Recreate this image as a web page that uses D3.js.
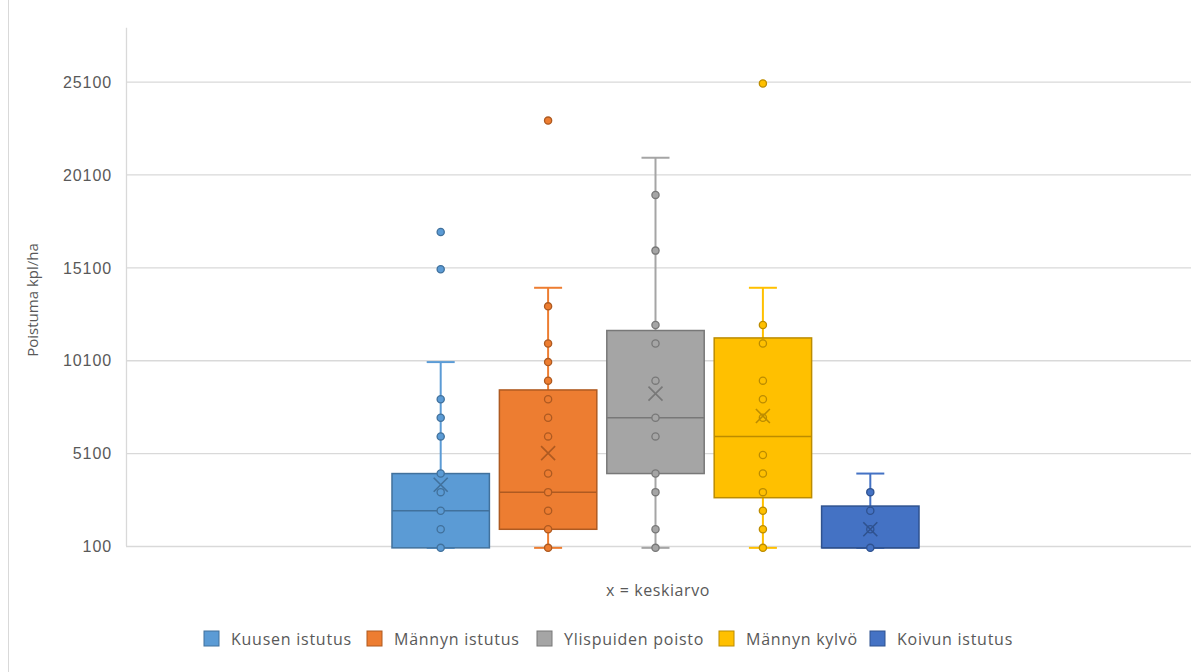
<!DOCTYPE html>
<html>
<head>
<meta charset="utf-8">
<script src="https://cdn.jsdelivr.net/npm/d3@7"></script>
<style>
  html, body { margin: 0; padding: 0; background: #fff; }
  svg { display: block; font-family: "Open Sans", "Noto Sans", sans-serif; }
</style>
</head>
<body>
<svg id="chart" width="1197" height="672"></svg>
<script>
// Box-and-whisker summary per planting method (stems per hectare)
const series = ["Kuusen istutus", "Männyn istutus", "Ylispuiden poisto", "Männyn kylvö", "Koivun istutus"];
const q1Values = [0, 1000, 4000, 2700, 0];
const medianValues = [2000, 3000, 7000, 6000, 0];
const q3Values = [4000, 8500, 11700, 11300, 2250];
const whiskerLow = [0, 0, 0, 0, 0];
const whiskerHigh = [10000, 14000, 21000, 14000, 4000];
const meanValues = [3400, 5100, 8300, 7100, 1000];
const pointValues = [
  [0, 1000, 2000, 3000, 4000, 6000, 7000, 8000, 15000, 17000],
  [0, 1000, 2000, 3000, 4000, 6000, 7000, 8000, 9000, 10000, 11000, 13000, 23000],
  [0, 1000, 3000, 4000, 6000, 7000, 9000, 11000, 12000, 16000, 19000],
  [0, 1000, 2000, 3000, 4000, 5000, 7000, 8000, 9000, 11000, 12000, 25000],
  [0, 1000, 2000, 3000]
];
const yTicks = [100, 5100, 10100, 15100, 20100, 25100];
const yMin = 100, yMax = 28000;
const yTitle = "Poistuma kpl/ha";
const xTitle = "x = keskiarvo";

const fills = ["#5B9BD5", "#ED7D31", "#A5A5A5", "#FFC000", "#4472C4"];
const edges = ["#41719C", "#AE5A21", "#787878", "#BC8C00", "#2F528F"];

const svg = d3.select("#chart");
const plot = { left: 126, right: 1191, top: 27.7, bottom: 546 };

// frame line of the chart area
svg.append("line")
  .attr("x1", 8.5).attr("x2", 8.5).attr("y1", 0).attr("y2", 672)
  .attr("stroke", "#D9D9D9").attr("stroke-width", 1);

const y = d3.scaleLinear().domain([yMin, yMax]).range([plot.bottom, plot.top]);

// one category holding the five series side by side
const xGroup = d3.scaleBand().domain(["all"]).range([plot.left, plot.right]).paddingOuter(0.5104).paddingInner(0);
const gx0 = xGroup("all") - 3;
const xInner = d3.scaleBand().domain(series).range([gx0, gx0 + xGroup.bandwidth()]).paddingInner(0.093).paddingOuter(0);

// gridlines + tick labels
const yAxis = d3.axisLeft(y).tickValues(yTicks).tickSize(-(plot.right - plot.left)).tickPadding(14).tickFormat(d3.format("d"));
const gAxis = svg.append("g").attr("transform", `translate(${plot.left},0)`).call(yAxis);
gAxis.select(".domain").remove();
gAxis.selectAll(".tick line").attr("stroke", "#D9D9D9").attr("stroke-width", 1.3);
gAxis.selectAll(".tick text").attr("fill", "#595959").style("font-size", "16px")
  .style("letter-spacing", "0.9px").attr("dy", "0.36em");

// vertical axis line
svg.append("line")
  .attr("x1", plot.left + 0.5).attr("x2", plot.left + 0.5)
  .attr("y1", plot.top).attr("y2", plot.bottom)
  .attr("stroke", "#D9D9D9").attr("stroke-width", 1.3);

const rows = series.map((s, i) => ({
  name: s, i, q1: q1Values[i], med: medianValues[i], q3: q3Values[i],
  lo: whiskerLow[i], hi: whiskerHigh[i], mean: meanValues[i], pts: pointValues[i]
}));

const g = svg.selectAll("g.box").data(rows).join("g").attr("class", "box");

g.each(function (d) {
  const sel = d3.select(this);
  const x0 = xInner(d.name), bw = xInner.bandwidth(), cx = x0 + bw / 2;
  const capW = 28;
  // whiskers
  sel.append("line").attr("x1", cx).attr("x2", cx).attr("y1", y(d.hi)).attr("y2", y(d.q3))
    .attr("stroke", fills[d.i]).attr("stroke-width", 2);
  sel.append("line").attr("x1", cx).attr("x2", cx).attr("y1", y(d.q1)).attr("y2", y(d.lo))
    .attr("stroke", fills[d.i]).attr("stroke-width", 2);
  sel.append("line").attr("x1", cx - capW / 2).attr("x2", cx + capW / 2).attr("y1", y(d.hi)).attr("y2", y(d.hi))
    .attr("stroke", fills[d.i]).attr("stroke-width", 2);
  sel.append("line").attr("x1", cx - capW / 2).attr("x2", cx + capW / 2).attr("y1", y(d.lo)).attr("y2", y(d.lo))
    .attr("stroke", fills[d.i]).attr("stroke-width", 2);
  // box
  sel.append("rect").attr("x", x0).attr("width", bw)
    .attr("y", y(d.q3)).attr("height", y(d.q1) - y(d.q3))
    .attr("fill", fills[d.i]).attr("stroke", edges[d.i]).attr("stroke-width", 1.5);
  // median
  sel.append("line").attr("x1", x0).attr("x2", x0 + bw).attr("y1", y(d.med)).attr("y2", y(d.med))
    .attr("stroke", edges[d.i]).attr("stroke-width", 1.5);
  // data points
  sel.selectAll("circle").data(d.pts).join("circle")
    .attr("cx", cx).attr("cy", v => y(v)).attr("r", 3.6)
    .attr("fill", fills[d.i]).attr("stroke", edges[d.i]).attr("stroke-width", 1.3);
  // mean marker
  const m = 7, my = y(d.mean);
  sel.append("path")
    .attr("d", `M${cx - m},${my - m}L${cx + m},${my + m}M${cx - m},${my + m}L${cx + m},${my - m}`)
    .attr("stroke", edges[d.i]).attr("stroke-width", 1.6).attr("fill", "none");
});

// axis titles
svg.append("text")
  .attr("transform", `translate(38,300) rotate(-90)`)
  .attr("text-anchor", "middle").attr("fill", "#595959").style("font-size", "15px")
  .text(yTitle);
svg.append("text")
  .attr("x", 658).attr("y", 596).attr("text-anchor", "middle")
  .attr("fill", "#595959").style("font-size", "16px").style("letter-spacing", "0.6px").text(xTitle);

// legend
const legendX = [204, 367, 537, 719, 870];
const lg = svg.selectAll("g.legend").data(series).join("g").attr("class", "legend")
  .attr("transform", (d, i) => `translate(${legendX[i]},631)`);
lg.append("rect").attr("width", 15).attr("height", 15)
  .attr("fill", (d, i) => fills[i]).attr("stroke", (d, i) => edges[i]).attr("stroke-width", 1);
lg.append("text").attr("x", 27).attr("y", 13.5).attr("fill", "#595959").style("font-size", "16px")
  .style("letter-spacing", "0.75px")
  .text(d => d);
</script>
</body>
</html>
